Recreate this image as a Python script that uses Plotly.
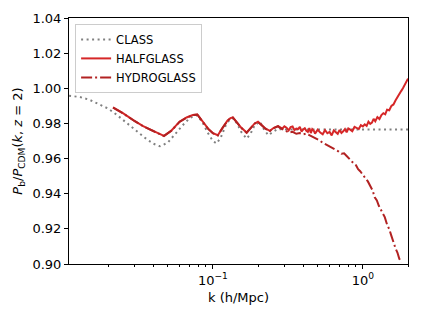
import plotly.graph_objects as go

# CLASS (smooth)
class_k = [0.011, 0.013, 0.015, 0.0177, 0.020, 0.0228, 0.026, 0.030, 0.035, 0.040, 0.0443,
           0.050, 0.056, 0.063, 0.070, 0.0778, 0.085, 0.092, 0.100, 0.106, 0.113, 0.122,
           0.130, 0.136, 0.145, 0.155, 0.168, 0.178, 0.190, 0.206, 0.218, 0.234, 0.250,
           0.270, 0.30, 0.40, 0.60, 1.0, 1.5, 2.0]
class_v = [0.9958, 0.9950, 0.9935, 0.9905, 0.9885, 0.9850, 0.9810, 0.9770, 0.9720, 0.9685, 0.9670,
           0.9690, 0.9740, 0.9790, 0.9830, 0.9847, 0.9810, 0.9750, 0.9700, 0.9686, 0.9720, 0.9790,
           0.9825, 0.9830, 0.9800, 0.9750, 0.9714, 0.9740, 0.9790, 0.9810, 0.9770, 0.9733, 0.9750,
           0.9768, 0.9766, 0.9765, 0.9765, 0.9765, 0.9765, 0.9765]

# HALFGLASS
half_k = [0.0216, 0.025, 0.030, 0.0343, 0.040, 0.0472, 0.053, 0.060, 0.0668, 0.0735, 0.0788,
          0.085, 0.093, 0.100, 0.108, 0.116, 0.125, 0.131, 0.136, 0.145, 0.155, 0.168, 0.180,
          0.190, 0.200, 0.212, 0.225, 0.240, 0.255, 0.272, 0.28,
          0.29, 0.30, 0.31, 0.32, 0.33, 0.34, 0.35, 0.36, 0.37, 0.38, 0.39, 0.40, 0.41, 0.42,
          0.43, 0.44, 0.45, 0.46, 0.47, 0.48, 0.50, 0.52, 0.54, 0.56, 0.58, 0.60, 0.62, 0.64,
          0.66, 0.68, 0.70, 0.72, 0.74, 0.76, 0.78, 0.80, 0.82, 0.85, 0.88, 0.91, 0.94, 0.97,
          1.00, 1.03, 1.06, 1.09, 1.12, 1.15, 1.18, 1.21, 1.25, 1.29, 1.33, 1.37, 1.41, 1.45,
          1.50, 1.55, 1.60, 1.65, 1.70, 1.75, 1.80, 1.85, 1.90, 1.95, 2.00]
half_v = [0.9891, 0.9860, 0.9815, 0.9785, 0.9758, 0.9729, 0.9760, 0.9810, 0.9834, 0.9848, 0.9851,
          0.9815, 0.9770, 0.9745, 0.9733, 0.9775, 0.9815, 0.9830, 0.9834, 0.9805, 0.9775, 0.9748, 0.9775,
          0.9800, 0.9810, 0.9790, 0.9770, 0.9758, 0.9775, 0.9785, 0.9780,
          0.9770, 0.9784, 0.9776, 0.9760, 0.9779, 0.9783, 0.9762, 0.9771, 0.9768, 0.9780, 0.9754, 0.9766, 0.9773, 0.9758,
          0.9752, 0.9774, 0.9745, 0.9768, 0.9760, 0.9742, 0.9765, 0.9748, 0.9738, 0.9762, 0.9744, 0.9752, 0.9732, 0.9760,
          0.9748, 0.9741, 0.9763, 0.9746, 0.9755, 0.9768, 0.9749, 0.9771, 0.9766, 0.9756, 0.9780, 0.9774, 0.9768, 0.9790,
          0.9783, 0.9795, 0.9786, 0.9810, 0.9798, 0.9805, 0.9826, 0.9812, 0.9836, 0.9825, 0.9848, 0.9858, 0.9852, 0.9878,
          0.9875, 0.9900, 0.9908, 0.9930, 0.9946, 0.9962, 0.9984, 1.0000, 1.0020, 1.0040, 1.0055]

# HYDROGLASS
hydro_k = [0.0216, 0.025, 0.030, 0.0343, 0.040, 0.0472, 0.053, 0.060, 0.0668, 0.0735, 0.0788,
           0.085, 0.093, 0.100, 0.108, 0.116, 0.125, 0.131, 0.136, 0.145, 0.155, 0.168, 0.180,
           0.190, 0.200, 0.212, 0.225, 0.240, 0.255, 0.272, 0.28,
           0.30, 0.32, 0.34, 0.36, 0.38, 0.40, 0.42, 0.44, 0.46, 0.48, 0.50, 0.52, 0.54, 0.56,
           0.58, 0.60, 0.63, 0.66, 0.69, 0.72, 0.75, 0.78, 0.81, 0.84, 0.87, 0.90, 0.93, 0.96,
           1.00, 1.04, 1.08, 1.12, 1.16, 1.20, 1.24, 1.28, 1.32, 1.36, 1.40, 1.45, 1.50, 1.55,
           1.60, 1.65, 1.70, 1.75, 1.81]
hydro_v = [0.9890, 0.9859, 0.9814, 0.9784, 0.9757, 0.9728, 0.9759, 0.9809, 0.9833, 0.9847, 0.9850,
           0.9814, 0.9769, 0.9744, 0.9732, 0.9774, 0.9814, 0.9829, 0.9833, 0.9804, 0.9774, 0.9747, 0.9774,
           0.9799, 0.9809, 0.9789, 0.9769, 0.9757, 0.9774, 0.9784, 0.9775,
           0.9762, 0.9748, 0.9752, 0.9741, 0.9745, 0.9738, 0.9742, 0.9733, 0.9725, 0.9716, 0.9711, 0.9701, 0.9690, 0.9683,
           0.9672, 0.9666, 0.9658, 0.9650, 0.9640, 0.9628, 0.9630, 0.9615, 0.9598, 0.9585, 0.9572, 0.9562, 0.9540, 0.9528,
           0.9505, 0.9488, 0.9470, 0.9440, 0.9420, 0.9380, 0.9362, 0.9330, 0.9305, 0.9288, 0.9267, 0.9225, 0.9198, 0.9160,
           0.9120, 0.9090, 0.9065, 0.9030, 0.9008]

y_ticks = [0.90, 0.92, 0.94, 0.96, 0.98, 1.00, 1.02, 1.04]
x_major = [0.1, 1.0]
x_major_text = ["10<sup>\u22121</sup>", "10<sup>0</sup>"]
x_minor = [0.02, 0.03, 0.04, 0.05, 0.06, 0.07, 0.08, 0.09,
           0.2, 0.3, 0.4, 0.5, 0.6, 0.7, 0.8, 0.9, 2.0]

FONT = "DejaVu Sans"

fig = go.Figure()
fig.add_trace(go.Scatter(x=class_k, y=class_v, mode="lines", name="CLASS",
                         line=dict(color="#808080", width=2, dash="2px,3.5px")))
fig.add_trace(go.Scatter(x=half_k, y=half_v, mode="lines", name="HALFGLASS",
                         line=dict(color="#d62728", width=2)))
fig.add_trace(go.Scatter(x=hydro_k, y=hydro_v, mode="lines", name="HYDROGLASS",
                         line=dict(color="#b22222", width=2, dash="11px,3px,2px,3px")))

fig.update_layout(
    width=421, height=316,
    margin=dict(l=69, r=13, t=18, b=52),
    paper_bgcolor="white", plot_bgcolor="white",
    font=dict(family=FONT, size=13, color="black"),
    showlegend=True,
    legend=dict(x=0.018, y=0.976, xanchor="left", yanchor="top",
                bgcolor="white", bordercolor="#cccccc", borderwidth=1,
                font=dict(family=FONT, size=11.5, color="black"),
                tracegroupgap=0, itemwidth=30),
)
fig.update_xaxes(
    type="log", range=[-1.959, 0.301],
    showgrid=False, zeroline=False,
    showline=True, linecolor="black", linewidth=1, mirror=True,
    ticks="outside", ticklen=4, tickwidth=1, tickcolor="black",
    tickmode="array", tickvals=x_major, ticktext=x_major_text,
    tickfont=dict(family=FONT, size=13),
    minor=dict(tickmode="array", tickvals=x_minor, ticks="outside", ticklen=2,
               tickwidth=0.8, tickcolor="black", showgrid=False),
    title=dict(text="k (h/Mpc)", font=dict(family=FONT, size=13), standoff=6),
)
fig.update_yaxes(
    range=[0.90, 1.04],
    showgrid=False, zeroline=False,
    showline=True, linecolor="black", linewidth=1, mirror=True,
    ticks="outside", ticklen=4, tickwidth=1, tickcolor="black",
    tickmode="array", tickvals=y_ticks, ticktext=[f"{v:.2f}" for v in y_ticks],
    tickfont=dict(family=FONT, size=13),
    title=dict(text="<i>P</i><sub>b</sub>/<i>P</i><sub>CDM</sub>(<i>k</i>, <i>z</i> = 2)",
               font=dict(family=FONT, size=13), standoff=6),
)

fig.write_html("out.html", config={"displayModeBar": False},
               post_script="document.body.style.margin='0';")
